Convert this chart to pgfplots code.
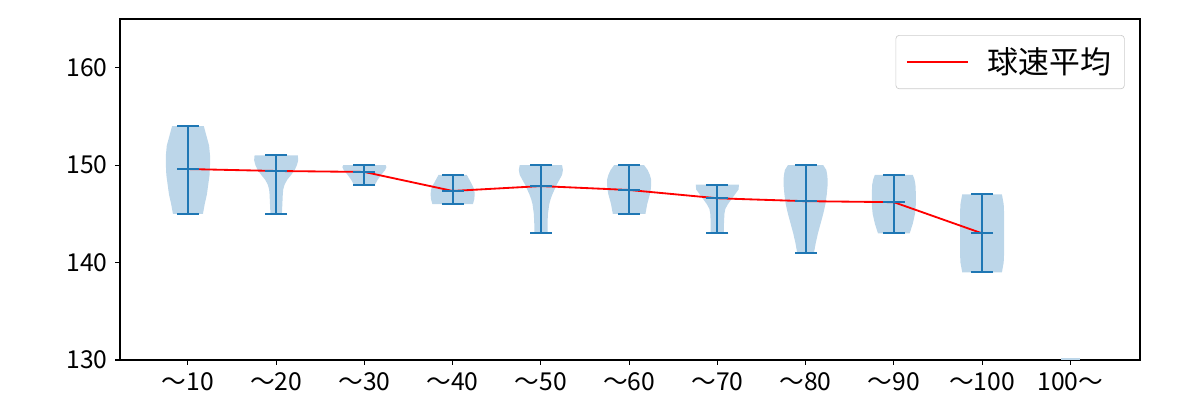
\documentclass[border=0pt]{standalone}
\usepackage{fontspec}
\setmainfont{Noto Sans CJK JP}
\usepackage{pgfplots}
\pgfplotsset{compat=1.18}
\usepackage{pgfplotstable}
\definecolor{vbody}{RGB}{188,214,233}
\definecolor{vline}{RGB}{31,119,180}
\definecolor{lgray}{RGB}{204,204,204}

\pgfplotstableread{
c mean max min
1 149.6 154 145
2 149.4 151 145
3 149.3 150 148
4 147.35 149 146
5 147.85 150 143
6 147.45 150 145
7 146.6 148 143
8 146.3 150 141
9 146.2 149 143
10 143.0 147 139
}\stats

\begin{document}
\begin{tikzpicture}
\begin{axis}[
  at={(0,0)}, anchor=south west,
  scale only axis,
  width=612pt, height=204.6pt,
  xmin=0.23, xmax=11.79,
  ymin=130, ymax=165,
  xtick={1,2,3,4,5,6,7,8,9,10,11},
  xticklabels={～10,～20,～30,～40,～50,～60,～70,～80,～90,～100,100～},
  ytick={130,140,150,160},
  tick pos=left,
  tick align=outside,
  major tick length=3pt,
  axis line style={line width=0.65pt},
  every tick/.style={line width=0.65pt, black},
  ticklabel style={font=\fontsize{14.8}{16}\selectfont},
  /pgf/number format/assume math mode=true,
  xticklabel style={yshift=-1pt},
  yticklabel style={xshift=-1pt},
  clip=true,
  unbounded coords=jump,
  legend style={at={(0.985,0.953)}, anchor=north east,
    draw=lgray, rounded corners=2pt, fill=white,
    font=\fontsize{18.5}{20}\selectfont,
    inner xsep=6pt, inner ysep=5.5pt},
  legend cell align=left,
  legend image code/.code={\draw[#1] (0pt,0pt) -- (37pt,0pt);},
]
% violin bodies
\addplot[fill=vbody, draw=none, forget plot] coordinates {
 (1.17,145) (1.19,146) (1.215,147) (1.23,148) (1.245,149) (1.25,150) (1.25,151) (1.24,152) (1.21,153) (1.18,154)
 (0.82,154) (0.79,153) (0.76,152) (0.75,151) (0.75,150) (0.755,149) (0.77,148) (0.785,147) (0.81,146) (0.83,145)} -- cycle;
\addplot[fill=vbody, draw=none, forget plot] coordinates {
 (2.065,145) (2.07,146) (2.075,147) (2.08,147.5) (2.095,148) (2.125,148.5) (2.17,149) (2.21,149.5) (2.235,150) (2.25,150.5) (2.245,151)
 (1.755,151) (1.75,150.5) (1.765,150) (1.79,149.5) (1.83,149) (1.875,148.5) (1.905,148) (1.92,147.5) (1.925,147) (1.93,146) (1.935,145)} -- cycle;
\addplot[fill=vbody, draw=none, forget plot] coordinates {
 (3.12,148) (3.15,148.5) (3.19,149) (3.235,149.5) (3.25,149.8) (3.24,150)
 (2.76,150) (2.75,149.8) (2.765,149.5) (2.81,149) (2.85,148.5) (2.88,148)} -- cycle;
\addplot[fill=vbody, draw=none, forget plot] coordinates {
 (4.23,146) (4.245,146.5) (4.25,147) (4.245,147.5) (4.22,148) (4.19,148.5) (4.16,149)
 (3.84,149) (3.81,148.5) (3.78,148) (3.755,147.5) (3.75,147) (3.755,146.5) (3.77,146)} -- cycle;
\addplot[fill=vbody, draw=none, forget plot] coordinates {
 (5.075,143) (5.075,144) (5.08,145) (5.095,146) (5.11,146.5) (5.13,147) (5.155,147.5) (5.18,148) (5.21,148.5) (5.24,149) (5.25,149.5) (5.24,150)
 (4.76,150) (4.75,149.5) (4.76,149) (4.79,148.5) (4.82,148) (4.845,147.5) (4.87,147) (4.89,146.5) (4.905,146) (4.92,145) (4.925,144) (4.925,143)} -- cycle;
\addplot[fill=vbody, draw=none, forget plot] coordinates {
 (6.185,145) (6.195,145.5) (6.205,146) (6.22,146.5) (6.235,147) (6.245,147.5) (6.25,148) (6.25,148.5) (6.235,149) (6.21,149.5) (6.17,150)
 (5.83,150) (5.79,149.5) (5.765,149) (5.75,148.5) (5.75,148) (5.755,147.5) (5.765,147) (5.78,146.5) (5.795,146) (5.805,145.5) (5.815,145)} -- cycle;
\addplot[fill=vbody, draw=none, forget plot] coordinates {
 (7.075,143) (7.075,144) (7.08,145) (7.09,145.5) (7.12,146) (7.16,146.5) (7.2,147) (7.24,147.5) (7.245,148)
 (6.755,148) (6.76,147.5) (6.8,147) (6.84,146.5) (6.88,146) (6.91,145.5) (6.92,145) (6.925,144) (6.925,143)} -- cycle;
\addplot[fill=vbody, draw=none, forget plot] coordinates {
 (8.095,141) (8.115,142) (8.14,143) (8.17,144) (8.2,145) (8.225,146) (8.24,147) (8.25,148) (8.25,148.5) (8.245,149) (8.235,149.5) (8.2,150)
 (7.8,150) (7.765,149.5) (7.755,149) (7.75,148.5) (7.75,148) (7.76,147) (7.775,146) (7.8,145) (7.83,144) (7.86,143) (7.885,142) (7.905,141)} -- cycle;
\addplot[fill=vbody, draw=none, forget plot] coordinates {
 (9.18,143) (9.215,144) (9.24,145) (9.25,146) (9.25,147) (9.245,148) (9.235,148.5) (9.215,149)
 (8.785,149) (8.765,148.5) (8.755,148) (8.75,147) (8.75,146) (8.76,145) (8.785,144) (8.82,143)} -- cycle;
\addplot[fill=vbody, draw=none, forget plot] coordinates {
 (10.225,139) (10.245,140) (10.25,141) (10.25,143) (10.25,145) (10.245,146) (10.225,147)
 (9.775,147) (9.755,146) (9.75,145) (9.75,143) (9.75,141) (9.755,140) (9.775,139)} -- cycle;
\addplot[fill=vbody, draw=none, forget plot] coordinates {
 (11.11,129) (11.11,130.2) (10.89,130.2) (10.89,129)} -- cycle;
% whiskers
\addplot[vline, line width=1.2pt, forget plot] coordinates {
 (1,145) (1,154) (1,nan)
 (2,145) (2,151) (2,nan)
 (3,148) (3,150) (3,nan)
 (4,146) (4,149) (4,nan)
 (5,143) (5,150) (5,nan)
 (6,145) (6,150) (6,nan)
 (7,143) (7,148) (7,nan)
 (8,141) (8,150) (8,nan)
 (9,143) (9,149) (9,nan)
 (10,139) (10,147)};
% caps and means
\addplot[vline, only marks, mark=-, mark size=6.6pt, mark options={line width=1.2pt}, forget plot]
  table[x=c, y=max] {\stats};
\addplot[vline, only marks, mark=-, mark size=6.6pt, mark options={line width=1.2pt}, forget plot]
  table[x=c, y=min] {\stats};
\addplot[vline, only marks, mark=-, mark size=6.6pt, mark options={line width=1.2pt}, forget plot]
  table[x=c, y=mean] {\stats};
% mean line
\addplot[red, line width=1.1pt] table[x=c, y=mean] {\stats};
\addlegendentry{\hspace{9pt}球速平均}
\end{axis}
\pgfresetboundingbox
\path[use as bounding box] (-72pt,-24pt) rectangle (648pt,216pt);
\end{tikzpicture}
\end{document}
